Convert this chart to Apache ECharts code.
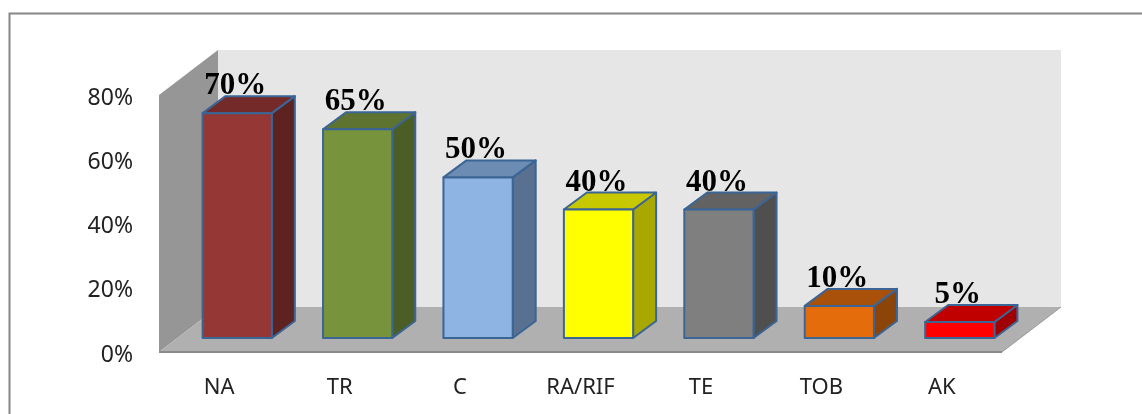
<!DOCTYPE html>
<html>
<head>
<meta charset="utf-8">
<style>html,body{margin:0;padding:0;background:#fff}#chart{width:1142px;height:414px}</style>
<script src="https://cdn.jsdelivr.net/npm/echarts@6/dist/echarts.min.js"></script>
</head>
<body>
<div id="chart"></div>
<script>
// Resistance rates per antibiotic
const categories = ['NA', 'TR', 'C', 'RA/RIF', 'TE', 'TOB', 'AK'];
const values = [70, 65, 50, 40, 40, 10, 5];
const yTicks = [0, 20, 40, 60, 80];

// Shades of each box: front, top and side faces
const frontColors = ['#953735', '#77933c', '#8eb4e3', '#ffff00', '#7f7f7f', '#e46c0a', '#ff0000'];
const topColors = ['#742a29', '#5d732f', '#6d8cb3', '#c8c800', '#626262', '#a9500a', '#c00000'];
const sideColors = ['#5e2220', '#4b5e26', '#5a7090', '#a8a800', '#4f4f4f', '#8c4408', '#a00000'];

// Oblique projection offsets, in pixels
const roomDepth = [59, -45];
const barDepth = [23, -17];
const barLift = [18, -14];
const edge = '#3b6595';

const poly = (points, fill, stroke, lineWidth) => ({
  type: 'polygon',
  shape: { points },
  style: { fill, stroke: stroke || fill, lineWidth: lineWidth || 0, lineJoin: 'round' }
});

// Back wall, side wall and floor of the plot box
function renderRoom(params, api) {
  const p0 = api.coord([0, 0]);
  const half = api.size([1, 0])[0] / 2;
  const left = p0[0] - half;
  const right = p0[0] + half * (2 * categories.length - 1);
  const bottom = p0[1];
  const top = api.coord([0, yTicks[yTicks.length - 1]])[1];
  const [dx, dy] = roomDepth;
  return {
    type: 'group',
    children: [
      poly([[left + dx, top + dy], [right + dx, top + dy], [right + dx, bottom + dy], [left + dx, bottom + dy]], '#e6e6e6'),
      poly([[left, top], [left + dx, top + dy], [left + dx, bottom + dy], [left, bottom]], '#969696'),
      poly([[left, bottom], [right, bottom], [right + dx, bottom + dy], [left + dx, bottom + dy]], '#b0b0b0'),
      { type: 'line', shape: { x1: left, y1: bottom, x2: right, y2: bottom }, style: { stroke: '#8a8a8a', lineWidth: 2 } },
      { type: 'line', shape: { x1: right, y1: bottom, x2: right + dx, y2: bottom + dy }, style: { stroke: '#9a9a9a', lineWidth: 1 } }
    ]
  };
}

// One projected box per category, with its percentage above it
function renderBar(params, api) {
  const i = params.dataIndex;
  const value = api.value(1);
  const base = api.coord([i, 0]);
  const head = api.coord([i, value]);
  const width = api.size([1, 0])[0] * 0.575;
  const x0 = base[0] + barLift[0] - width / 2;
  const x1 = x0 + width;
  const y0 = base[1] + barLift[1];
  const y1 = head[1] + barLift[1];
  const [dx, dy] = barDepth;
  return {
    type: 'group',
    children: [
      poly([[x1, y1], [x1 + dx, y1 + dy], [x1 + dx, y0 + dy], [x1, y0]], sideColors[i], edge, 2),
      poly([[x0, y1], [x0 + dx, y1 + dy], [x1 + dx, y1 + dy], [x1, y1]], topColors[i], edge, 2),
      poly([[x0, y1], [x1, y1], [x1, y0], [x0, y0]], frontColors[i], edge, 2),
      {
        type: 'text',
        x: (x0 + x1) / 2 - 2,
        y: y1 - 27,
        style: {
          text: value + '%',
          fill: '#000',
          font: 'bold 31px "Liberation Serif", serif',
          textAlign: 'center',
          textVerticalAlign: 'middle'
        }
      }
    ]
  };
}

const chart = echarts.init(document.getElementById('chart'), null, { renderer: 'canvas' });
chart.setOption({
  animation: false,
  backgroundColor: '#fff',
  // Outer frame, open on the right and at the foot of the page
  graphic: [{
    type: 'polyline',
    silent: true,
    shape: { points: [[9.5, 414], [9.5, 13.5], [1142, 13.5]] },
    style: { stroke: '#868686', lineWidth: 2, fill: null }
  }],
  grid: { left: 159, top: 95, width: 843, height: 257 },
  xAxis: {
    type: 'category',
    data: categories,
    axisLine: { show: false },
    axisTick: { show: false },
    axisLabel: { margin: 25, color: '#222', fontFamily: 'Noto Sans', fontSize: 22 }
  },
  yAxis: {
    type: 'value',
    min: yTicks[0],
    max: yTicks[yTicks.length - 1],
    interval: yTicks[1] - yTicks[0],
    axisLine: { show: false },
    axisTick: { show: false },
    splitLine: { show: false },
    axisLabel: { margin: 26, color: '#222', fontFamily: 'Noto Sans', fontSize: 23, verticalAlign: 'top', lineHeight: 6, formatter: '{value}%' }
  },
  series: [
    {
      type: 'custom',
      name: 'room',
      silent: true,
      z: 1,
      renderItem: renderRoom,
      encode: { x: 0, y: 1 },
      data: [[0, 0]]
    },
    {
      type: 'custom',
      name: 'resistance',
      silent: true,
      z: 2,
      renderItem: renderBar,
      encode: { x: 0, y: 1 },
      data: values.map((v, i) => [i, v])
    }
  ]
});
</script>
</body>
</html>
